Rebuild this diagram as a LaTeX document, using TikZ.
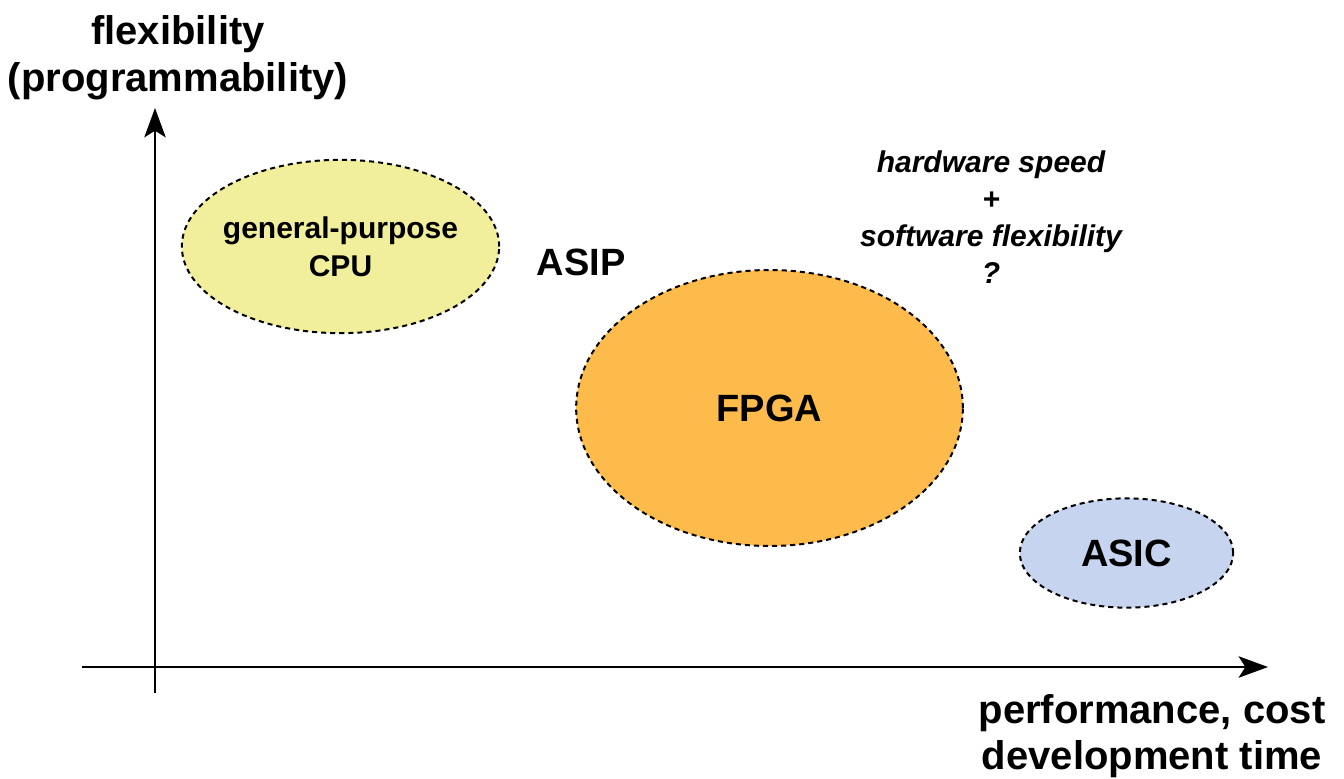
\documentclass[tikz,border=0pt]{standalone}
\usepackage{fontspec}
\setmainfont{Liberation Sans}
\usepackage{tikz}
\usetikzlibrary{arrows.meta,positioning,shapes.geometric}

\definecolor{cpufill}{HTML}{F1EF9B}
\definecolor{fpgafill}{HTML}{FDBB4B}
\definecolor{asicfill}{HTML}{C6D4F0}

\tikzset{
  axis/.style={line width=1.8pt,-{Stealth[length=22pt,width=16pt,inset=5pt]}},
  blob/.style={ellipse,draw,line width=1.5pt,dash pattern=on 3.8pt off 3pt,inner sep=0pt,
    font=\bfseries\fontsize{28.5}{34}\selectfont},
  axlabel/.style={align=center,font=\bfseries\fontsize{30}{35}\selectfont},
  bigtext/.style={font=\bfseries\fontsize{28.5}{34}\selectfont},
}

\begin{document}
\begin{tikzpicture}[x=0.75pt,y=-0.75pt]
  \useasboundingbox (0,0) rectangle (1344,778);

  % axes
  \coordinate (ybot) at (155,693);
  \coordinate (ytop) at (155,108);
  \coordinate (xleft) at (82,667);
  \coordinate (xright) at (1268,667);
  \draw[axis] (ybot) -- (ytop);
  \draw[axis] (xleft) -- (xright);

  \node[axlabel] (ylab) at (178,58) {flexibility\\(programmability)};
  \node[axlabel] (xlab) at (1152,736) {performance, cost\\development time};

  % regions
  \node[blob,fill=cpufill,minimum width=236pt,minimum height=130pt,inner sep=-4pt,
    align=center,font=\bfseries\fontsize{22.5}{28.5}\selectfont] (cpu) at (340.5,246.5) {general-purpose\\CPU};
  \node[blob,fill=fpgafill,minimum width=290pt,minimum height=207pt] (fpga) at (769.5,408) {FPGA};
  \node[blob,fill=asicfill,minimum width=160pt,minimum height=82pt] (asic) at (1126.5,553) {ASIC};

  \node[bigtext] (asip) at (581,262) {ASIP};

  \node[align=center,font=\bfseries\itshape\fontsize{22.5}{27.75}\selectfont] (note) at (991,217)
    {hardware speed\\+\\software flexibility\\?};
\end{tikzpicture}
\end{document}
